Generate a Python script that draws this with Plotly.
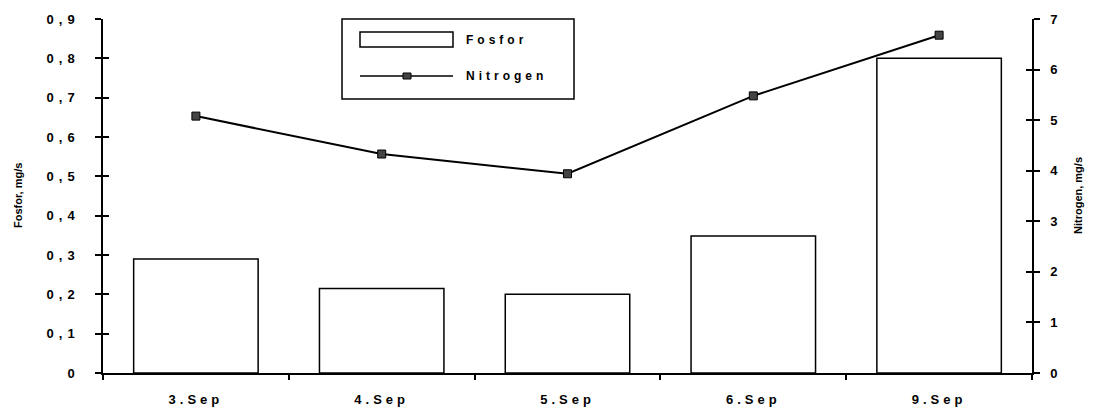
import plotly.graph_objects as go

categories = ["3.Sep", "4.Sep", "5.Sep", "6.Sep", "9.Sep"]
fosfor = [0.29, 0.215, 0.20, 0.348, 0.80]
nitrogen = [5.08, 4.33, 3.94, 5.48, 6.68]

left_ticks = [0, 0.1, 0.2, 0.3, 0.4, 0.5, 0.6, 0.7, 0.8, 0.9]
left_labels = ["0", "0,1", "0,2", "0,3", "0,4", "0,5", "0,6", "0,7", "0,8", "0,9"]
right_ticks = [0, 1, 2, 3, 4, 5, 6, 7]
right_labels = ["0", "1", "2", "3", "4", "5", "6", "7"]

FONT = "Liberation Sans, Arial, sans-serif"
W, H = 1095, 409
L, R, T, B = 103, 63, 19, 36

fig = go.Figure()
fig.add_trace(go.Bar(
    x=categories, y=fosfor, name="Fosfor", width=0.67,
    marker=dict(color="white", line=dict(color="black", width=1.5)),
    yaxis="y", showlegend=False,
))
fig.add_trace(go.Scatter(
    x=categories, y=nitrogen, name="Nitrogen", mode="lines+markers",
    line=dict(color="black", width=2),
    marker=dict(symbol="square", size=8, color="#444", line=dict(color="black", width=1)),
    yaxis="y2", showlegend=False,
))

tickfont = dict(family=FONT, size=13, color="black", weight="bold")
fig.update_layout(
    width=W, height=H,
    margin=dict(l=L, r=R, t=T, b=B, autoexpand=False),
    paper_bgcolor="white", plot_bgcolor="white",
    font=dict(family=FONT, color="black"),
    xaxis=dict(
        type="category", tickson="boundaries", ticks="outside", ticklen=5,
        tickcolor="black", tickwidth=1.5, showline=True, linecolor="black",
        linewidth=1.5, showgrid=False, tickfont=tickfont, zeroline=False,
        automargin=False, ticklabelstandoff=14,
    ),
    yaxis=dict(
        range=[0, 0.9], tickvals=left_ticks, ticktext=left_labels,
        ticks="outside", ticklen=6, tickwidth=1.5, tickcolor="black",
        showline=True, linecolor="black", linewidth=1.5, showgrid=False,
        zeroline=False, tickfont=tickfont, automargin=False, ticklabelstandoff=13,
    ),
    yaxis2=dict(
        range=[0, 7], tickvals=right_ticks, ticktext=right_labels,
        overlaying="y", side="right",
        ticks="outside", ticklen=6, tickwidth=1.5, tickcolor="black",
        showline=True, linecolor="black", linewidth=1.5, showgrid=False,
        zeroline=False, tickfont=tickfont, automargin=False, ticklabelstandoff=8,
    ),
    yaxis3=dict(
        range=[0, 0.9], tickvals=left_ticks, overlaying="y", side="left",
        ticks="inside", ticklen=6, tickwidth=1.5, tickcolor="black",
        showticklabels=False, showgrid=False, zeroline=False, showline=False,
        automargin=False,
    ),
    yaxis4=dict(
        range=[0, 7], tickvals=right_ticks, overlaying="y", side="right",
        ticks="inside", ticklen=6, tickwidth=1.5, tickcolor="black",
        showticklabels=False, showgrid=False, zeroline=False, showline=False,
        automargin=False,
    ),
    bargap=0.33,
)
fig.add_trace(go.Scatter(x=[categories[0]], y=[0], yaxis="y3", mode="markers",
                         marker=dict(opacity=0), showlegend=False, hoverinfo="skip"))
fig.add_trace(go.Scatter(x=[categories[0]], y=[0], yaxis="y4", mode="markers",
                         marker=dict(opacity=0), showlegend=False, hoverinfo="skip"))

pw = W - L - R
ph = H - T - B
def px(x): return (x - L) / pw
def py(y): return 1 - (y - T) / ph

# axis titles
fig.add_annotation(xref="paper", yref="paper", x=px(18), y=py(196), text="<b>Fosfor, mg/s</b>",
                   textangle=-90, showarrow=False, xanchor="center", yanchor="middle",
                   font=dict(family=FONT, size=11, color="black"))
fig.add_annotation(xref="paper", yref="paper", x=px(1078), y=py(196), text="<b>Nitrogen, mg/s</b>",
                   textangle=-90, showarrow=False, xanchor="center", yanchor="middle",
                   font=dict(family=FONT, size=11, color="black"))

# manual legend
fig.add_shape(type="rect", xref="paper", yref="paper",
              x0=px(342), x1=px(574), y0=py(99), y1=py(19),
              line=dict(color="black", width=1.5), fillcolor="white", layer="above")
fig.add_shape(type="rect", xref="paper", yref="paper",
              x0=px(360), x1=px(453), y0=py(47), y1=py(32),
              line=dict(color="black", width=1.5), fillcolor="white", layer="above")
fig.add_shape(type="line", xref="paper", yref="paper",
              x0=px(360), x1=px(453), y0=py(76), y1=py(76),
              line=dict(color="black", width=1.5), layer="above")
fig.add_shape(type="rect", xref="paper", yref="paper",
              x0=px(403), x1=px(411), y0=py(79), y1=py(73),
              line=dict(color="black", width=1), fillcolor="#444", layer="above")
fig.add_annotation(xref="paper", yref="paper", x=px(476), y=py(40), text="<b>Fosfor</b>",
                   showarrow=False, xanchor="left", yanchor="middle",
                   font=dict(family=FONT, size=12, color="black"))
fig.add_annotation(xref="paper", yref="paper", x=px(480), y=py(76), text="<b>Nitrogen</b>",
                   showarrow=False, xanchor="left", yanchor="middle",
                   font=dict(family=FONT, size=12, color="black"))

post = """
document.body.style.margin = '0';
var gd = document.getElementById('{plot_id}');
function sty() {
  gd.querySelectorAll('.xtick text').forEach(function(t){ t.style.letterSpacing = '4px'; });
  gd.querySelectorAll('.ytick text').forEach(function(t){ t.style.letterSpacing = '5px'; });
  gd.querySelectorAll('.annotation-text').forEach(function(t){
    var s = t.textContent;
    if (s === 'Fosfor' || s === 'Nitrogen') { t.style.letterSpacing = '4px'; }
  });
}
sty();
gd.on('plotly_afterplot', sty);
"""

fig.write_html("out.html", post_script=post, config={"displayModeBar": False})
